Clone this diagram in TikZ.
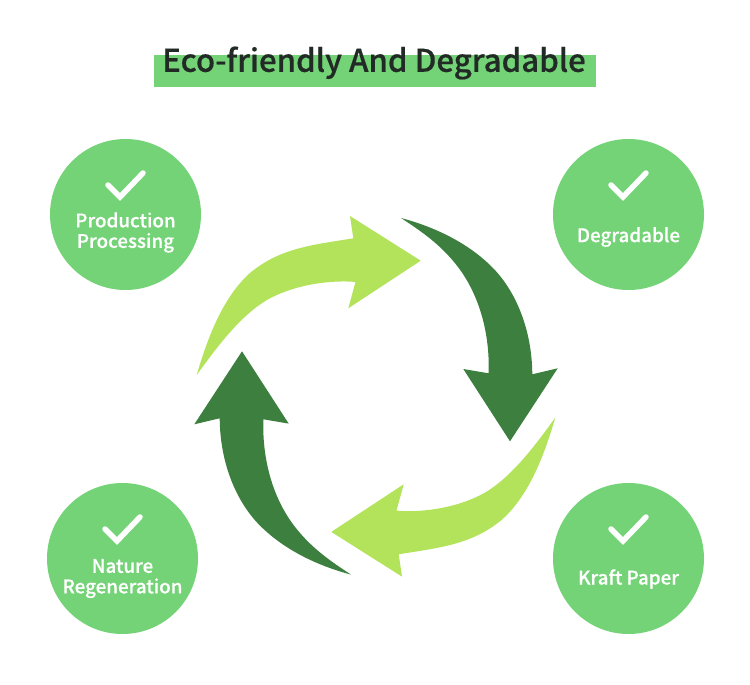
\documentclass[tikz,border=0pt]{standalone}
\usepackage{fontspec}
\setmainfont{Noto Sans CJK SC}[BoldFont={Noto Sans CJK SC Medium},BoldFeatures={FakeBold=0.5}]
\definecolor{circ}{HTML}{74D377}
\definecolor{lite}{HTML}{B3E35A}
\definecolor{dark}{HTML}{3C7F3F}
\definecolor{ink}{HTML}{222A26}
\tikzset{
  badge/.style={circle,fill=circ,minimum size=151pt,inner sep=0pt},
  lbl/.style={text=white,font=\bfseries\fontsize{18.8}{21}\selectfont,align=center,inner sep=0pt,anchor=center},
  tick/.style={draw=white,line width=5.5pt,line cap=round,line join=miter}
}
\newcommand{\checkat}[1]{\draw[tick] ($(#1)+(-17.5,-29.5)$) -- ($(#1)+(-5.5,-17.5)$) -- ($(#1)+(17.5,-41.5)$);}
\usetikzlibrary{calc}
\begin{document}
\begin{tikzpicture}[x=1pt,y=-1pt]
\useasboundingbox (0,0) rectangle (750,685);
\fill[white] (0,0) rectangle (750,685);
\fill[circ] (154,55) rectangle (596,87);
\node[text=ink,font=\bfseries\fontsize{31.2}{36}\selectfont,inner sep=0pt] (title) at (374,63) {Eco-friendly And Degradable};
\node[badge] (a) at (125.5,214.5) {};
\node[badge] (b) at (628.5,214.5) {};
\node[badge] (c) at (122.5,558.5) {};
\node[badge] (d) at (628.5,558.5) {};
\checkat{a}\checkat{b}\checkat{c}\checkat{d}
\node[lbl] (at) at ($(a)+(0,18)$) {Production\\[-0.5pt]Processing};
\node[lbl] (bt) at ($(b)+(0,22.5)$) {Degradable};
\node[lbl] (ct) at ($(c)+(0,20)$) {Nature\\[-0.5pt]Regeneration};
\node[lbl] (dt) at ($(d)+(0,20.5)$) {Kraft Paper};
\foreach \r in {0,180}{
\begin{scope}[rotate around={\r:(376,396.3)}]
\fill[lite] (196.7,375) .. controls (207,340) and (222,298) .. (250,273) .. controls (280,248) and (312,245) .. (353.3,238.3)
  -- (350,216) -- (420.7,260.7) -- (348.3,308.3) -- (355.5,282)
  .. controls (335,280) and (297,283) .. (267,300) .. controls (240,316) and (217,347) .. (196.7,375) -- cycle;
\fill[dark] (401,218) .. controls (435,227) and (468,243) .. (492,267) .. controls (516,291) and (532,330) .. (532.3,374.3)
  -- (557.7,368.3) -- (510,441.3) -- (463.3,369) -- (488.6,373.3)
  .. controls (490,335) and (480,296) .. (458,267) .. controls (442,246) and (424,233) .. (401,218) -- cycle;
\end{scope}}
\end{tikzpicture}
\end{document}
